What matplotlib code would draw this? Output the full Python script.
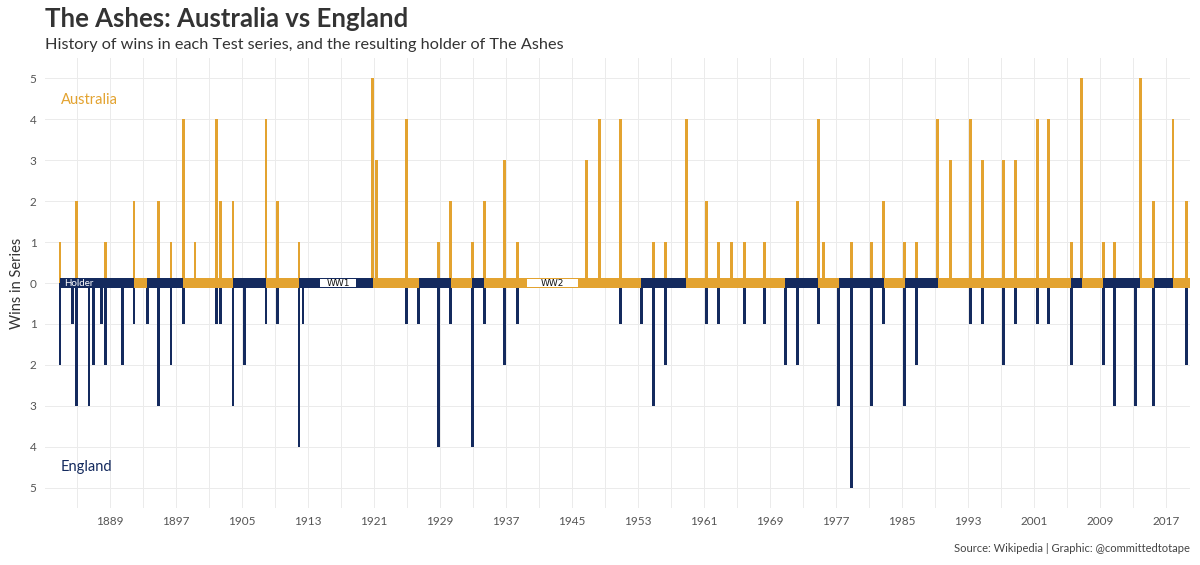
import matplotlib
matplotlib.use("Agg")
import matplotlib.pyplot as plt
import numpy as np

# ---------------- data ----------------
series_dates = [1882.95, 1884.45, 1884.9, 1886.45, 1886.97, 1888.0, 1888.5, 1890.5, 1891.9, 1893.5,
                1894.85, 1896.4, 1897.9, 1899.3, 1901.9, 1902.4, 1903.9, 1905.3, 1907.9, 1909.3,
                1911.9, 1912.4,
                1920.85, 1921.35, 1924.9, 1926.4, 1928.8, 1930.3, 1932.9, 1934.35, 1936.8, 1938.4,
                1946.8, 1948.35, 1950.85, 1953.4, 1954.85, 1956.35, 1958.85, 1961.35, 1962.8, 1964.35,
                1965.9, 1968.35, 1970.85, 1972.35, 1974.85, 1975.45, 1977.35, 1978.85, 1981.35, 1982.8,
                1985.35, 1986.8,
                1989.35, 1990.85, 1993.35, 1994.8, 1997.3, 1998.8, 2001.4, 2002.8, 2005.5, 2006.8,
                2009.4, 2010.8, 2013.35, 2013.9, 2015.5, 2017.85, 2019.5]

aus_wins = [1, 0, 2, 0, 0, 0, 1, 0, 2, 0, 2, 1, 4, 1, 4, 2, 2, 0, 4, 2, 1, 0,
            5, 3, 4, 0, 1, 2, 1, 2, 3, 1,
            3, 4, 4, 0, 1, 1, 4, 2, 1, 1, 1, 1, 0, 2, 4, 1, 0, 1, 1, 2, 1, 1,
            4, 3, 4, 3, 3, 3, 4, 4, 1, 5, 1, 1, 0, 5, 2, 4, 2]

eng_wins = [2, 1, 3, 3, 2, 1, 2, 2, 1, 1, 3, 2, 1, 0, 1, 1, 3, 2, 1, 1, 4, 1,
            0, 0, 1, 1, 4, 1, 4, 1, 2, 1,
            0, 0, 1, 1, 3, 2, 0, 1, 1, 0, 1, 1, 2, 2, 1, 0, 3, 5, 3, 1, 3, 2,
            0, 0, 1, 1, 2, 1, 1, 1, 2, 0, 2, 3, 3, 0, 3, 0, 2]

band_end = 2019.9
wars = ["WW1", "WW2"]
war_start = [1914.5, 1939.6]
war_end = [1918.8, 1945.7]

x_ticks = list(range(1889, 2018, 8))
y_ticks = [-5, -4, -3, -2, -1, 0, 1, 2, 3, 4, 5]
y_tick_labels = ["5", "4", "3", "2", "1", "0", "1", "2", "3", "4", "5"]

GOLD = "#E3A330"
NAVY = "#142A5E"

# holder after each series (a drawn series keeps the previous holder)
holder = []
cur = "England"
for a, e in zip(aus_wins, eng_wins):
    if a > e:
        cur = "Australia"
    elif e > a:
        cur = "England"
    holder.append(cur)

plt.rcParams['font.family'] = ['Lato', 'DejaVu Sans']

fig = plt.figure(figsize=(12, 5.65), dpi=100)
ax = fig.add_axes([45/1200, 1 - 508/565, 1145/1200, 450/565])

x = np.array(series_dates)
ax.bar(x, aus_wins, width=0.34, color=GOLD, zorder=2)
ax.bar(x, -np.array(eng_wins), width=0.34, color=NAVY, zorder=2)

band_right = list(series_dates[1:]) + [band_end]
widths = np.array(band_right) - x
colors = [GOLD if h == "Australia" else NAVY for h in holder]
ax.bar(x, 0.25, bottom=-0.125, width=widths, align='edge', color=colors, zorder=3)

for w, s, e in zip(wars, war_start, war_end):
    ax.bar(s, 0.18, bottom=-0.09, width=e - s, align='edge', color='white', zorder=4)
    ax.text((s + e) / 2, -0.005, w, ha='center', va='center', fontsize=6.5,
            color='#111111', zorder=5, family=['DejaVu Sans'])

ax.text(1883.4, -0.005, "Holder", ha='left', va='center', fontsize=7, color='white', zorder=5)
ax.text(1883.0, 4.46, "Australia", ha='left', va='center', fontsize=10.5, color=GOLD)
ax.text(1883.0, -4.49, "England", ha='left', va='center', fontsize=10.5, color=NAVY)

ax.set_xlim(1881.12, 2019.91)
ax.set_ylim(-5.49, 5.49)
ax.set_xticks(x_ticks)
ax.set_xticklabels([str(t) for t in x_ticks])
ax.set_xticks([t - 4 for t in x_ticks], minor=True)
ax.set_yticks(y_ticks)
ax.set_yticklabels(y_tick_labels)
ax.tick_params(axis='both', which='both', length=0, labelsize=8.5, labelcolor='#555555')
ax.tick_params(axis='x', pad=6)
ax.tick_params(axis='y', pad=6)
ax.grid(True, which='major', color='#EBEBEB', linewidth=0.7, zorder=0)
ax.grid(True, which='minor', axis='x', color='#EBEBEB', linewidth=0.7, zorder=0)
ax.set_axisbelow(True)
for sp in ax.spines.values():
    sp.set_visible(False)

ax.set_ylabel("Wins in Series", fontsize=10.5, color='#333333', labelpad=4)

fig.text(45/1200, 1 - 19/565, "The Ashes: Australia vs England", fontsize=18.5, fontweight='bold',
         color='#333333', ha='left', va='center')
fig.text(45/1200, 1 - 45/565, "History of wins in each Test series, and the resulting holder of The Ashes",
         fontsize=11.7, color='#333333', ha='left', va='center')
fig.text(1190/1200, 1 - 549/565, "Source: Wikipedia | Graphic: @committedtotape", fontsize=8,
         color='#444444', ha='right', va='center')

fig.savefig("out.png", dpi=100)
